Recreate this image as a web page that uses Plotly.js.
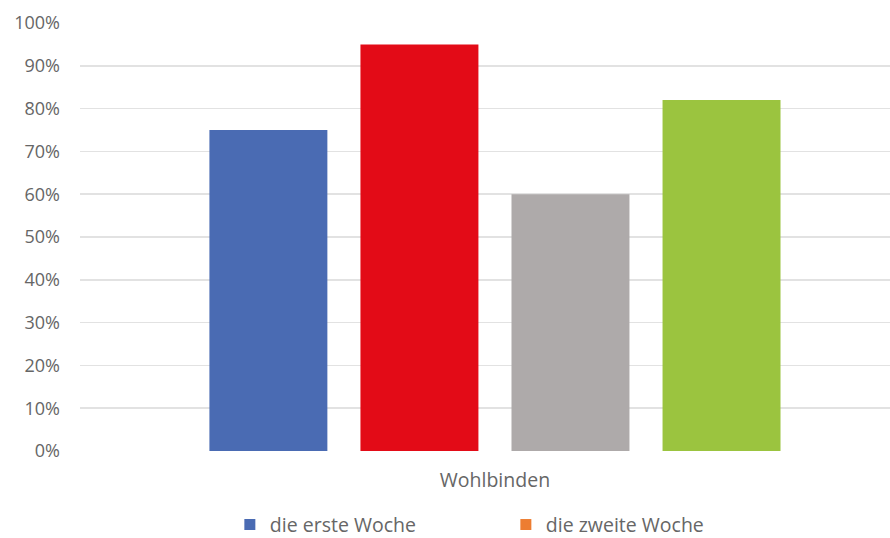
<!DOCTYPE html>
<html><head><meta charset="utf-8">
<script src="https://cdn.plot.ly/plotly-3.0.1.min.js"></script>
<style>html,body{margin:0;padding:0;background:#fff;}#chart{width:890px;height:538px;}</style>
</head><body><div id="chart"></div>
<script>
var categories = ["Wohlbinden"];
var seriesNames = ["die erste Woche", "die zweite Woche", "die dritte Woche", "die vierte Woche"];
var seriesValues = [[0.75], [0.95], [0.60], [0.82]];
var barColors = ["#4a6bb3", "#e30b17", "#aeaaaa", "#9bc43f"];
var legendNames = ["die erste Woche", "die zweite Woche"];
var legendColors = ["#4a6bb3", "#ed7d31"];
var yTickVals = [0, 0.1, 0.2, 0.3, 0.4, 0.5, 0.6, 0.7, 0.8, 0.9, 1.0];

var font = "Open Sans, Noto Sans, sans-serif";
var traces = [];
for (var i = 0; i < seriesNames.length; i++) {
  traces.push({type: "bar", x: categories, y: seriesValues[i], name: seriesNames[i],
    marker: {color: barColors[i]}, showlegend: false, hoverinfo: "none"});
}
for (var j = 0; j < legendNames.length; j++) {
  traces.push({type: "scatter", mode: "markers", x: [null], y: [null], name: legendNames[j],
    marker: {symbol: "square", size: 11, color: legendColors[j]}, showlegend: true, hoverinfo: "none"});
}

var layout = {
  width: 890, height: 538,
  margin: {l: 80, r: 0, t: 23, b: 87, autoexpand: false},
  paper_bgcolor: "#ffffff", plot_bgcolor: "#ffffff",
  barmode: "group", bargap: 0.272, bargroupgap: 0.219,
  font: {family: font, color: "#666666", size: 18},
  xaxis: {type: "category", range: [-0.5, 0.476], showgrid: false, zeroline: false,
    showline: false, ticks: "", ticklabelstandoff: 15, tickfont: {size: 19.5, color: "#666666"}},
  yaxis: {range: [0, 1], tickvals: yTickVals, tickformat: ".0%", showgrid: true,
    gridcolor: "#e2e2e2", gridwidth: 1.5, zeroline: false, showline: false, ticks: "",
    ticklabelstandoff: 19, tickfont: {size: 18, color: "#666666"}},
  showlegend: true,
  legend: {orientation: "h", x: 0.185, xanchor: "left", y: -0.127, yanchor: "top",
    entrywidth: 231, entrywidthmode: "pixels", font: {size: 19.5, color: "#666666"},
    bgcolor: "rgba(0,0,0,0)"}
};
Plotly.newPlot("chart", traces, layout, {displayModeBar: false, staticPlot: true});
</script></body></html>
